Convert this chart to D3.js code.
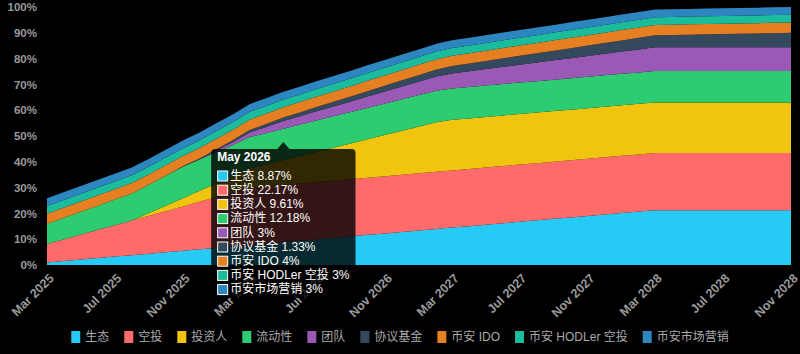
<!DOCTYPE html>
<html lang="zh">
<head>
<meta charset="UTF-8">
<title>代币解锁</title>
<script src="https://cdn.jsdelivr.net/npm/d3@7"></script>
<style>
  html, body { margin: 0; background: #000; }
  svg { display: block; }
</style>
</head>
<body>
<script>
const [width, height] = [800, 354]
const font = '"Liberation Sans", "Noto Sans CJK SC", sans-serif'

const seriesNames = ['生态', '空投', '投资人', '流动性', '团队', '协议基金', '币安 IDO', '币安 HODLer 空投', '币安市场营销']
const colors = ['#25cbf6', '#ff6b6b', '#f1c40f', '#2ecc71', '#9b59b6', '#34495e', '#e67e22', '#1abc9c', '#2e86c1']

// monthly, Mar 2025 .. Nov 2028 (45 months), % of supply unlocked
const eco = [1.00, 1.56, 2.13, 2.69, 3.25, 3.81, 4.38, 4.94, 5.50, 6.06, 6.63, 7.19, 7.75, 8.31, 8.87, 9.44, 10.00, 10.56, 11.13, 11.69, 12.25, 12.81, 13.38, 13.94, 14.50, 15.06, 15.63, 16.19, 16.75, 17.31, 17.88, 18.44, 19.00, 19.56, 20.13, 20.69, 21.25, 21.25, 21.25, 21.25, 21.25, 21.25, 21.25, 21.25, 21.25]
const airdrop = [7.20, 8.45, 9.70, 10.94, 12.19, 13.44, 14.69, 15.93, 17.18, 18.43, 19.68, 20.92, 22.17, 22.17, 22.17, 22.17, 22.17, 22.17, 22.17, 22.17, 22.17, 22.17, 22.17, 22.17, 22.17, 22.17, 22.17, 22.17, 22.17, 22.17, 22.17, 22.17, 22.17, 22.17, 22.17, 22.17, 22.17, 22.17, 22.17, 22.17, 22.17, 22.17, 22.17, 22.17, 22.17]
const investors = [0, 0, 0, 0, 0, 0, 1.07, 2.14, 3.20, 4.27, 5.34, 6.41, 7.47, 8.54, 9.61, 10.68, 11.75, 12.81, 13.88, 14.95, 16.02, 17.08, 18.15, 19.22, 19.60, 19.60, 19.60, 19.60, 19.60, 19.60, 19.60, 19.60, 19.60, 19.60, 19.60, 19.60, 19.60, 19.60, 19.60, 19.60, 19.60, 19.60, 19.60, 19.60, 19.60]
const liquidity = [7.70, 8.26, 8.82, 9.38, 9.94, 10.50, 11.06, 11.62, 12.18, 12.18, 12.18, 12.18, 12.18, 12.18, 12.18, 12.18, 12.18, 12.18, 12.18, 12.18, 12.18, 12.18, 12.18, 12.18, 12.18, 12.18, 12.18, 12.18, 12.18, 12.18, 12.18, 12.18, 12.18, 12.18, 12.18, 12.18, 12.18, 12.18, 12.18, 12.18, 12.18, 12.18, 12.18, 12.18, 12.18]
const team = [0, 0, 0, 0, 0, 0, 0, 0, 0, 0, 0.60, 1.20, 1.80, 2.40, 3.00, 3.28, 3.56, 3.85, 4.13, 4.41, 4.69, 4.97, 5.26, 5.54, 5.82, 6.10, 6.38, 6.67, 6.95, 7.23, 7.51, 7.79, 8.08, 8.36, 8.64, 8.92, 9.20, 9.20, 9.20, 9.20, 9.20, 9.20, 9.20, 9.20, 9.20]
const protocol = [0, 0, 0, 0, 0, 0, 0, 0, 0.19, 0.38, 0.57, 0.76, 0.95, 1.14, 1.33, 1.48, 1.63, 1.78, 1.93, 2.08, 2.23, 2.38, 2.53, 2.68, 2.83, 2.98, 3.13, 3.28, 3.43, 3.58, 3.73, 3.88, 4.03, 4.18, 4.33, 4.48, 4.63, 4.75, 4.87, 4.99, 5.11, 5.23, 5.35, 5.47, 5.59]
const ido = [4, 4, 4, 4, 4, 4, 4, 4, 4, 4, 4, 4, 4, 4, 4, 4, 4, 4, 4, 4, 4, 4, 4, 4, 4, 4, 4, 4, 4, 4, 4, 4, 4, 4, 4, 4, 4, 4, 4, 4, 4, 4, 4, 4, 4]
const hodler = [3, 3, 3, 3, 3, 3, 3, 3, 3, 3, 3, 3, 3, 3, 3, 3, 3, 3, 3, 3, 3, 3, 3, 3, 3, 3, 3, 3, 3, 3, 3, 3, 3, 3, 3, 3, 3, 3, 3, 3, 3, 3, 3, 3, 3]
const marketing = [3, 3, 3, 3, 3, 3, 3, 3, 3, 3, 3, 3, 3, 3, 3, 3, 3, 3, 3, 3, 3, 3, 3, 3, 3, 3, 3, 3, 3, 3, 3, 3, 3, 3, 3, 3, 3, 3, 3, 3, 3, 3, 3, 3, 3]
const seriesValues = [eco, airdrop, investors, liquidity, team, protocol, ido, hodler, marketing]

const tickLabels = ['Mar 2025', 'Jul 2025', 'Nov 2025', 'Mar 2026', 'Jul 2026', 'Nov 2026', 'Mar 2027', 'Jul 2027', 'Nov 2027', 'Mar 2028', 'Jul 2028', 'Nov 2028']
const yTicks = [0, 10, 20, 30, 40, 50, 60, 70, 80, 90, 100]
const tooltipIndex = 14 // May 2026

const months = d3.timeMonth.range(new Date(2025, 2, 1), new Date(2028, 11, 1))
const table = months.map((m, i) => {
    const row = {date: m}
    seriesNames.forEach((k, j) => row[k] = seriesValues[j][i])
    return row
})

const x = d3.scaleTime().domain([months[0], months[months.length - 1]]).range([47, 791])
const y = d3.scaleLinear().domain([0, 100]).range([265, 7])

const svg = d3.select('body').append('svg')
    .attr('width', width)
    .attr('height', height)
    .style('font-family', font)
svg.append('rect').attr('width', width).attr('height', height).attr('fill', '#000')

// stacked areas
const layers = d3.stack().keys(seriesNames)(table)
const area = d3.area()
    .x(d => x(d.data.date))
    .y0(d => y(d[0]))
    .y1(d => y(d[1]))
svg.append('g').selectAll('path').data(layers)
    .enter().append('path')
    .attr('d', area)
    .attr('fill', (d, i) => colors[i])

// y axis
const yAxis = svg.append('g')
    .attr('transform', 'translate(37,0)')
    .call(d3.axisLeft(y).tickValues(yTicks).tickFormat(d => d + '%').tickSize(0).tickPadding(0))
yAxis.select('.domain').remove()
yAxis.selectAll('text')
    .attr('fill', '#9a9a9a')
    .style('font-size', '11.5px')
    .style('font-weight', 'bold')
    .style('font-family', font)

// x axis
const tickDates = tickLabels.map((t, i) => months[i * 4])
const xAxis = svg.append('g')
    .attr('transform', 'translate(0,265)')
    .call(d3.axisBottom(x).tickValues(tickDates).tickFormat((d, i) => tickLabels[i]).tickSize(0))
xAxis.select('.domain').remove()
xAxis.selectAll('text')
    .attr('y', 0)
    .attr('dy', '0.35em')
    .attr('transform', 'translate(4,11) rotate(-45)')
    .attr('text-anchor', 'end')
    .attr('fill', '#9a9a9a')
    .style('font-size', '12.5px')
    .style('font-weight', 'bold')
    .style('font-family', font)

// legend, centred
const legend = svg.append('g').attr('transform', 'translate(0,337)')
const items = legend.selectAll('g').data(seriesNames).enter().append('g')
items.append('rect')
    .attr('y', -6).attr('width', 9).attr('height', 12)
    .attr('fill', (d, i) => colors[i])
items.append('text')
    .attr('x', 14).attr('dy', '0.35em')
    .attr('fill', '#aaa')
    .style('font-size', '12px')
    .text(d => d)
let widths = []
items.each(function () { widths.push(14 + d3.select(this).select('text').node().getComputedTextLength()) })
const gap = 15
const total = d3.sum(widths) + gap * (widths.length - 1)
let cx = width / 2 - total / 2
items.attr('transform', (d, i) => {
    const t = `translate(${cx},0)`
    cx += widths[i] + gap
    return t
})

// tooltip for May 2026
const tx = x(months[tooltipIndex])
const tip = svg.append('g')
const tipBox = tip.append('rect')
const tipArrow = tip.append('path')
const tipTop = 149
tip.append('text')
    .attr('x', 0).attr('y', tipTop + 12)
    .attr('fill', '#fff')
    .style('font-size', '12px').style('font-weight', 'bold')
    .text(d3.timeFormat('%b %Y')(months[tooltipIndex]))
const rows = tip.selectAll('g.row').data(seriesNames).enter().append('g')
    .attr('class', 'row')
    .attr('transform', (d, i) => `translate(0,${tipTop + 26.5 + i * 14.2})`)
rows.append('rect')
    .attr('x', 0.5).attr('y', -4.5).attr('width', 10).attr('height', 10)
    .attr('fill', (d, i) => colors[i])
    .attr('stroke', '#fff').attr('stroke-width', 1)
rows.append('text')
    .attr('x', 13).attr('dy', '0.35em')
    .attr('fill', '#fff')
    .style('font-size', '12px')
    .text((d, i) => d + ' ' + (+seriesValues[i][tooltipIndex].toFixed(2)) + '%')
let tipW = 0
tip.selectAll('text').each(function () {
    const t = d3.select(this)
    tipW = Math.max(tipW, +t.attr('x') + this.getComputedTextLength())
})
const padX = 6
const boxW = tipW + padX * 2
const boxX = tx - boxW / 2
const boxH = 149
tipBox.attr('x', -padX).attr('y', tipTop).attr('width', boxW).attr('height', boxH)
    .attr('rx', 4).attr('fill', 'rgba(0,0,0,0.8)')
tipArrow.attr('d', `M${boxW / 2 - padX - 6},${tipTop} L${boxW / 2 - padX},${tipTop - 7} L${boxW / 2 - padX + 6},${tipTop} Z`)
    .attr('fill', 'rgba(0,0,0,0.8)')
tip.attr('transform', `translate(${boxX + padX},0)`)
</script>
</body>
</html>
